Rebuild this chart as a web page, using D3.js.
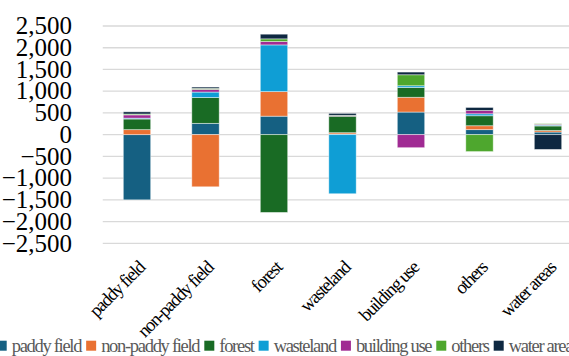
<!DOCTYPE html>
<html><head><meta charset="utf-8">
<script src="https://cdn.jsdelivr.net/npm/d3@7"></script>
<style>body{margin:0;background:#fff;overflow:hidden}svg{display:block}</style>
</head><body>
<script>
const categories = ["paddy field","non-paddy field","forest","wasteland","building use","others","water areas"];
const seriesNames = ["paddy field","non-paddy field","forest","wasteland","building use","others","water areas"];
const colors = ["#156082","#E97132","#196B24","#0F9ED5","#A02B93","#4EA72E","#0E2841"];
// values[series][category]
const paddyField    = [-1500, 260, 425, 15, 520, 115, 60];
const nonPaddyField = [ 115, -1200, 565, 30, 340, 90, 35];
const forest        = [ 245, 595, -1790, 380, 225, 230, 105];
const wasteland     = [ 20, 125, 1075, -1360, 40, 45, 20];
const buildingUse   = [ 75, 62, 77, 10, -300, 77, 20];
const others        = [ 20, 23, 62, 10, 253, -390, 15];
const waterAreas    = [ 50, 30, 108, 45, 62, 69, -340];
const yTicks = [2500,2000,1500,1000,500,0,-500,-1000,-1500,-2000,-2500];

const series = [paddyField,nonPaddyField,forest,wasteland,buildingUse,others,waterAreas];
const W=569,H=356;
const svg=d3.select("body").append("svg").attr("width",W).attr("height",H);
const x=d3.scaleBand().domain(categories).range([102.75,582.25]).paddingInner(0.6).paddingOuter(0.3);
const y=d3.scaleLinear().domain([-2500,2500]).range([243.3,26]);

// gridlines
svg.append("g").selectAll("line").data(yTicks).join("line")
  .attr("x1",102.75).attr("x2",W).attr("y1",d=>y(d)).attr("y2",d=>y(d))
  .attr("stroke","#d9d9d9").attr("stroke-width",1.3);

// y labels
svg.append("g").selectAll("text").data(yTicks).join("text")
  .attr("x",72).attr("y",d=>y(d)).attr("dy","0.33em").attr("text-anchor","end")
  .attr("font-family","'Liberation Serif','Times New Roman',serif").attr("font-size",25)
  .attr("fill","#000").text(d=>d3.format(",")(d));

// stacking with separate pos/neg
const rows = categories.map((c,ci)=>{const o={cat:c};seriesNames.forEach((s,si)=>o[s]=series[si][ci]);return o;});
const stack=d3.stack().keys(seriesNames).offset(d3.stackOffsetDiverging)(rows);
const g=svg.append("g");
stack.forEach((layer,si)=>{
  g.append("g").attr("fill",colors[si]).selectAll("rect").data(layer).join("rect")
   .attr("x",d=>x(d.data.cat)).attr("width",x.bandwidth())
   .attr("y",d=>y(Math.max(d[0],d[1]))).attr("height",d=>Math.abs(y(d[0])-y(d[1])))
   .attr("stroke","#ffffff").attr("stroke-opacity",0.55).attr("stroke-width",0.8);
});

// x labels
svg.append("g").selectAll("text").data(categories).join("text")
  .attr("transform",d=>`translate(${x(d)+x.bandwidth()/2+1},261) rotate(-45)`)
  .attr("text-anchor","end").attr("dy","0.6em")
  .attr("font-family","'Liberation Serif','Times New Roman',serif").attr("font-size",18.5)
  .attr("letter-spacing",-1.3).attr("fill","#000").text(d=>d);

// legend
const lg=svg.append("g");
let lx=-3.3;
seriesNames.forEach((s,i)=>{
  lg.append("rect").attr("x",lx).attr("y",340.7).attr("width",10).attr("height",10).attr("fill",colors[i]);
  const t=lg.append("text").attr("x",lx+15).attr("y",351.5)
    .attr("font-family","'Liberation Serif','Times New Roman',serif").attr("font-size",18.5)
    .attr("letter-spacing",-1.3).attr("fill","#595959").text(s);
  lx += 15 + t.node().getComputedTextLength() + 5;
});
</script>
</body></html>
